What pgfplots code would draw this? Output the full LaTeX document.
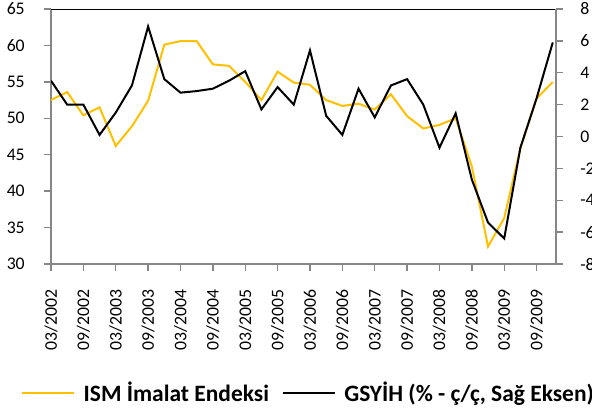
\documentclass[border=0pt]{standalone}
\usepackage{pgfplots}
\pgfplotsset{compat=1.18}
\usepackage{fontspec}
\setmainfont{Carlito}
\definecolor{ismc}{HTML}{FFC000}
\definecolor{axgray}{HTML}{868686}
\begin{document}
\begin{tikzpicture}
\pgfplotsset{
  common/.style={
    scale only axis, width=378.75pt, height=191.25pt,
    at={(0,0)}, anchor=south west,
    xmin=0, xmax=31.2,
    axis line style={axgray, line width=1.9pt, -},
    tick align=outside,
    major tick length=5.5pt,
    tick style={axgray, line width=1pt},
    /pgf/number format/assume math mode=true,
    tick label style={font=\fontsize{13.3}{16}\selectfont},
  }
}
\begin{axis}[common,
  axis x line*=bottom, axis y line*=left,
  ymin=30, ymax=65, ytick={30,35,...,65},
  xtick={0,2,...,30},
  xticklabels={03/2002,09/2002,03/2003,09/2003,03/2004,09/2004,03/2005,09/2005,03/2006,09/2006,03/2007,09/2007,03/2008,09/2008,03/2009,09/2009},
  xticklabel style={rotate=90, anchor=east, inner sep=0pt},
  xticklabel shift=13.5pt,
  yticklabel style={anchor=east, inner sep=0pt},
  yticklabel shift=14pt,
]
\addplot[ismc, line width=1.5pt] coordinates {
(0,52.5) (1,53.6) (2,50.4) (3,51.5) (4,46.2) (5,48.9) (6,52.4) (7,60.1)
(8,60.6) (9,60.6) (10,57.4) (11,57.2) (12,55.0) (13,52.5) (14,56.4) (15,54.9)
(16,54.6) (17,52.5) (18,51.7) (19,52.0) (20,51.2) (21,53.3) (22,50.3) (23,48.6)
(24,49.1) (25,50.0) (26,43.4) (27,32.4) (28,36.3) (29,45.9) (30,52.7) (31,55.0)
};
\draw[black, line width=1.5pt] (rel axis cs:0,1) -- (rel axis cs:1,1);
\end{axis}
\begin{axis}[common,
  axis x line=none, axis y line*=right,
  ymin=-8, ymax=8, ytick={-8,-6,...,8},
  yticklabel style={anchor=west, inner sep=0pt},
  yticklabel shift=12.5pt,
  legend columns=2,
  legend cell align=left,
  legend image code/.code={\draw[#1] (0pt,0pt) -- (39pt,0pt);},
  legend style={at={(-0.0594,-0.5059)}, anchor=west, draw=none, fill=none,
    inner sep=0pt, outer sep=0pt,
    font=\fontsize{17.6}{20}\selectfont\bfseries,
    /tikz/every odd column/.append style={column sep=4.5pt},
    /tikz/every even column/.append style={column sep=7.5pt}},
]
\addlegendimage{ismc, line width=1.5pt}
\addlegendentry{ISM İmalat Endeksi}
\addplot[black, line width=1.5pt] coordinates {
(0,3.5) (1,2.0) (2,2.0) (3,0.1) (4,1.5) (5,3.2) (6,6.9) (7,3.6)
(8,2.75) (9,2.85) (10,3.0) (11,3.5) (12,4.1) (13,1.7) (14,3.1) (15,2.0)
(16,5.4) (17,1.3) (18,0.1) (19,3.0) (20,1.2) (21,3.2) (22,3.6) (23,2.0)
(24,-0.7) (25,1.45) (26,-2.7) (27,-5.4) (28,-6.4) (29,-0.7) (30,2.4) (31,5.9)
};
\addlegendentry{GSYİH (\% - ç/ç, Sağ Eksen)}
\end{axis}
\pgfresetboundingbox
\path (-38.25pt,-111pt) rectangle (405.75pt,198pt);
\end{tikzpicture}
\end{document}
